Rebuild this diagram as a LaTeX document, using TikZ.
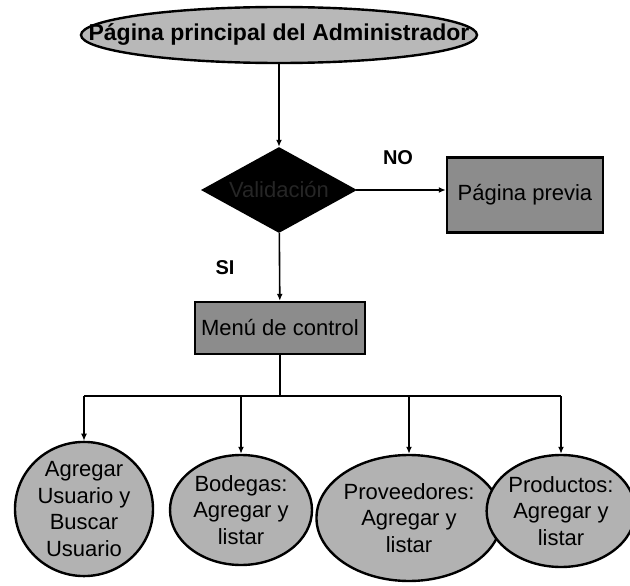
\documentclass[tikz,border=0pt]{standalone}
\usepackage{fontspec}
\setmainfont{Liberation Sans}
\usepackage{tikz}
\usetikzlibrary{arrows.meta,shapes.geometric}

\begin{document}
\begin{tikzpicture}[
  x=1pt, y=-1pt,
  every node/.style={inner sep=0pt, font=\fontsize{22}{26}\selectfont},
  inicio/.style={ellipse, draw, line width=2.4pt, fill=black!28,
                 inner xsep=-55pt, inner ysep=4pt,
                 minimum width=396pt, minimum height=56pt,
                 font=\fontsize{23}{27}\selectfont\bfseries},
  decision/.style={diamond, draw, line width=2.4pt, fill=black, text=black!85,
                   aspect=1.8, minimum width=152pt, minimum height=84pt},
  caja/.style={rectangle, draw, line width=2.4pt, fill=black!45,
               minimum width=#1, minimum height=52pt},
  opcion/.style={ellipse, draw, line width=2.4pt, fill=black!30,
                 align=center, font=\fontsize{22}{26.5}\selectfont},
  etiqueta/.style={font=\fontsize{20}{24}\selectfont\bfseries},
  ln/.style={line width=1.6pt},
  ar/.style={ln, -{Latex[length=7pt,width=6pt]}},
]
\useasboundingbox (0,0) rectangle (630,586);

% ---------------------------------------------------------- parte superior
\node[inicio] (adm) at (279,35) {Página principal del Administrador};
\node[decision] (val) at (279,190) {Validación};
\node[caja=156pt, minimum height=75pt] (prev) at (525,195) {Página previa};
\node[caja=170pt] (menu) at (280,328) {Menú de control};

\node[etiqueta] (no) at (398,158) {NO};
\node[etiqueta] (si) at (225,268) {SI};

\draw[ar] (adm) -- (val);
\draw[ar] (val.east) -- (val.east -| prev.west);
\draw[ar] (val) -- (menu);

% ---------------------------------------------------------- opciones
\node[opcion, minimum width=138pt, minimum height=112pt] (c1) at (84,509)
  {Agregar\\Usuario y\\Buscar\\Usuario};
\node[opcion, minimum width=142pt, minimum height=110pt] (c2) at (241,510)
  {Bodegas:\\Agregar y\\listar};
\node[opcion, minimum width=170pt, minimum height=126pt] (c3) at (409,518)
  {Proveedores:\\Agregar y\\listar};
\node[opcion, minimum width=140pt, minimum height=112pt] (c4) at (561,511)
  {Productos:\\Agregar y\\listar};

\coordinate (bus) at (280,396);
\draw[ln] (menu) -- (bus);
\draw[ln] (c1 |- bus) -- (c4 |- bus);
\foreach \c in {c1,c2,c3,c4}
  \draw[ar] (\c |- bus) -- (\c);

\end{tikzpicture}
\end{document}
